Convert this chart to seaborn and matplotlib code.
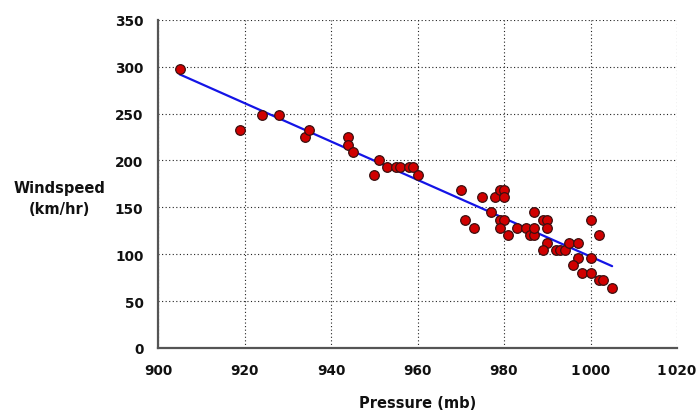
import matplotlib
matplotlib.use("Agg")
import matplotlib.pyplot as plt
import seaborn as sns
import pandas as pd
from matplotlib.ticker import FixedLocator, FuncFormatter

pressure = [905, 919, 924, 928, 934, 935, 944, 944, 945, 950, 951, 953, 955,
            956, 958, 959, 960, 970, 971, 973, 975, 977, 978, 979, 980, 980,
            979, 980, 979, 981, 983, 985, 986, 987, 987, 987, 989, 990, 990,
            990, 989, 992, 993, 994, 995, 997, 997, 996, 998, 1000, 1000, 1000,
            1002, 1002, 1003, 1005]
windspeed = [297, 232, 248, 248, 225, 232, 225, 216, 209, 184, 200, 193, 193,
             193, 193, 193, 184, 168, 136, 128, 161, 145, 161, 168, 168, 161,
             136, 136, 128, 120, 128, 128, 120, 120, 145, 128, 136, 136, 128,
             112, 104, 104, 104, 104, 112, 112, 96, 88, 80, 80, 96, 136,
             120, 72, 72, 64]
x_ticks = [900, 920, 940, 960, 980, 1000, 1020]
y_ticks = [0, 50, 100, 150, 200, 250, 300, 350]

df = pd.DataFrame({"Pressure": pressure, "Windspeed": windspeed})

sns.set_theme(style="white")
plt.rcParams["font.family"] = ["DejaVu Sans"]

fig = plt.figure(figsize=(6.96, 4.14), dpi=100)
ax = fig.add_axes([158/696, 1 - 349/414, (677-158)/696, (349-20.7)/414])

sns.regplot(data=df, x="Pressure", y="Windspeed", scatter=False, ci=None,
            ax=ax, line_kws=dict(color="#1414e6", lw=1.6, zorder=2))
sns.scatterplot(data=df, x="Pressure", y="Windspeed", ax=ax, s=48,
                color="#d00000", edgecolor="#3a1010", linewidth=0.9, zorder=3)

ax.set_xlim(900, 1020)
ax.set_ylim(0, 350)
ax.xaxis.set_major_locator(FixedLocator(x_ticks))
ax.yaxis.set_major_locator(FixedLocator(y_ticks))
fmt = FuncFormatter(lambda v, p: f"{int(v):,}".replace(",", "\u200a"))
ax.xaxis.set_major_formatter(fmt)
ax.yaxis.set_major_formatter(fmt)

ax.grid(True, color="#222222", linestyle=(0, (1, 2.2)), linewidth=0.8)
for s in ["top", "right"]:
    ax.spines[s].set_visible(False)
for s in ["left", "bottom"]:
    ax.spines[s].set_color("#555555")
    ax.spines[s].set_linewidth(1.6)
    ax.spines[s].set_zorder(4)
ax.tick_params(axis="both", direction="inout", length=7, width=1.3,
               color="#555555", labelsize=9.8, pad=7, labelcolor="#111111")
for lab in ax.get_xticklabels() + ax.get_yticklabels():
    lab.set_fontweight("bold")

ax.set_xlabel("Pressure (mb)", fontsize=10.5, fontweight="bold", color="#111111",
              va="center")
ax.xaxis.set_label_coords(0.5, -0.165)
ax.set_ylabel("Windspeed\n(km/hr)", fontsize=10.5, fontweight="bold",
              rotation=0, ha="center", va="center", color="#111111",
              linespacing=1.5)
ax.yaxis.set_label_coords(-0.19, 0.457)

fig.savefig("out.png", dpi=100)
